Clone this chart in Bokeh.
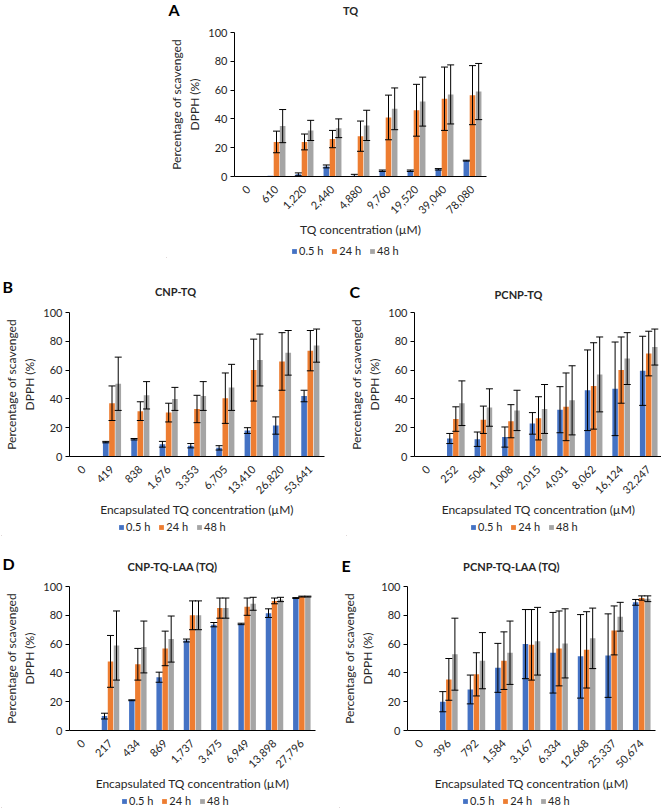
import math
from bokeh.plotting import figure
from bokeh.models import (ColumnDataSource, FactorRange, Whisker, TeeHead, Label,
                          Legend, LegendItem, FixedTicker, Range1d, Spacer)
from bokeh.transform import dodge
from bokeh.layouts import column, row
from bokeh.embed import file_html
from bokeh.resources import INLINE
from bokeh.core.validation import silence
from bokeh.core.validation.warnings import MISSING_RENDERERS

silence(MISSING_RENDERERS, True)

series = ["0.5 h", "24 h", "48 h"]
colors = ["#4472C4", "#ED7D31", "#A5A5A5"]
y_ticks = [0, 20, 40, 60, 80, 100]
y_title = "Percentage of scavenged\nDPPH (%)"

# Panel A - TQ
a_cats = ["0", "610", "1,220", "2,440", "4,880", "9,760", "19,520", "39,040", "78,080"]
a_05 = [0, 0.5, 1.5, 7, 0.5, 4, 4, 5, 11]
a_05_err = [0, 0, 1, 1, 1, 0.5, 0.5, 0.5, 0.3]
a_24 = [0, 24, 24, 26, 28, 41, 46, 54, 56.5]
a_24_err = [0, 7.5, 5.5, 6, 10.5, 15.5, 18, 22, 20.5]
a_48 = [0, 35, 32, 33.5, 35.5, 47, 52, 57, 59]
a_48_err = [0, 11.5, 7, 6.5, 10.5, 14.5, 17, 20.5, 19.5]

# Panel B - CNP-TQ
b_cats = ["0", "419", "838", "1,676", "3,353", "6,705", "13,410", "26,820", "53,641"]
b_05 = [0, 10, 12, 8.5, 7.5, 6, 18, 21.5, 42]
b_05_err = [0, 0.5, 0.5, 2, 1.5, 1.5, 2, 6, 4]
b_24 = [0, 37, 31.5, 30.5, 33, 40.5, 60, 66, 73.5]
b_24_err = [0, 12, 6.5, 6.5, 9.5, 17.5, 21.5, 20, 14]
b_48 = [0, 50.5, 42.5, 40, 42, 48, 67, 72, 77]
b_48_err = [0, 18.5, 9.5, 8, 10, 16, 18, 15.5, 11.5]

# Panel C - PCNP-TQ
c_cats = ["0", "252", "504", "1,008", "2,015", "4,031", "8,062", "16,124", "32,247"]
c_05 = [0, 12.5, 12, 13.5, 23, 32.5, 46, 47, 59.5]
c_05_err = [0, 3.5, 5, 7, 7.5, 16, 28, 32.5, 24]
c_24 = [0, 26, 25.5, 24.5, 26.5, 34.5, 49, 60, 71.5]
c_24_err = [0, 8.5, 9.5, 11.5, 15, 23.5, 30, 23, 15.5]
c_48 = [0, 37, 34, 32, 33, 39, 57, 68, 76]
c_48_err = [0, 15.5, 13, 14, 17, 24, 26, 18, 12.5]

# Panel D - CNP-TQ-LAA (TQ)
d_cats = ["0", "217", "434", "869", "1,737", "3,475", "6,949", "13,898", "27,796"]
d_05 = [0, 10, 21, 37, 62.5, 73.5, 74, 81.5, 92]
d_05_err = [0, 2, 0.3, 3.5, 1, 1.5, 0.5, 3, 0.3]
d_24 = [0, 48, 46, 57, 80, 85, 86, 90, 93]
d_24_err = [0, 18, 11, 12, 10, 7, 6, 2, 0.3]
d_48 = [0, 59, 58, 63.5, 80, 85, 88, 91, 93]
d_48_err = [0, 24, 18, 16, 10, 7, 4.5, 1.5, 0.3]

# Panel E - PCNP-TQ-LAA (TQ)
e_cats = ["0", "396", "792", "1,584", "3,167", "6,334", "12,668", "25,337", "50,674"]
e_05 = [0, 20, 28.5, 43.5, 60, 54, 51.5, 52, 89]
e_05_err = [0, 7, 10, 17, 24, 28, 29, 29, 2]
e_24 = [0, 35.5, 39, 48.5, 59.5, 57, 56, 69.5, 92]
e_24_err = [0, 14.5, 15, 20, 24.5, 26, 26.5, 17, 1.5]
e_48 = [0, 53, 48.5, 54, 62, 60.5, 64, 79, 91.5]
e_48_err = [0, 25, 19.5, 22, 23.5, 24, 21, 10, 2]

FONT = "Lato"
TXT = "#262626"
FH = 144


def blank(w, h):
    p = figure(width=w, height=h, x_range=Range1d(0, w), y_range=Range1d(0, h),
               min_border=0, x_axis_location=None, y_axis_location=None,
               output_backend="svg", toolbar_location=None, tools="", title=None)
    p.outline_line_color = None
    p.xgrid.grid_line_color = None
    p.ygrid.grid_line_color = None
    p.background_fill_color = None
    p.border_fill_color = None
    return p


def header(w, h, letter, title, lx, ly, tx, ty):
    p = blank(w, h)
    p.add_layout(Label(x=lx, y=ly, x_units="screen", y_units="screen",
                       text=letter, text_font=FONT, text_font_size="16px",
                       text_font_style="bold", text_color="black",
                       text_align="left", text_baseline="middle"))
    p.add_layout(Label(x=tx, y=ty, x_units="screen", y_units="screen",
                       text=title, text_font=FONT, text_font_size="11px",
                       text_font_style="bold", text_color=TXT,
                       text_align="center", text_baseline="middle"))
    return p


def footer(w, h, lx, ly):
    p = blank(w, h)
    rends = []
    for i in range(3):
        # legend swatch only: the bar lies outside the visible range
        r = p.vbar(x=[-1000], top=[1], width=1, fill_color=colors[i], line_color=None)
        rends.append(r)
    legend = Legend(items=[LegendItem(label=series[i], renderers=[rends[i]]) for i in range(3)],
                    location=(lx, ly), orientation="horizontal",
                    glyph_width=6, glyph_height=6, label_standoff=2, spacing=8,
                    padding=0, margin=0, label_height=12, label_width=10,
                    border_line_color=None, background_fill_alpha=0,
                    label_text_font=FONT, label_text_font_size="11px",
                    label_text_color=TXT)
    p.add_layout(legend)
    return p


def panel(xtitle, cats, vals, errs, fw, left, right, top, bottom):
    p = figure(x_range=FactorRange(factors=cats), y_range=Range1d(0, 100),
               frame_width=fw, frame_height=FH, title=None,
               min_border_left=left, min_border_right=right,
               min_border_top=top, min_border_bottom=bottom,
               output_backend="svg", toolbar_location=None, tools="")
    p.outline_line_color = None
    p.xgrid.grid_line_color = None
    p.ygrid.grid_line_color = None
    p.background_fill_color = None
    p.border_fill_color = None

    data = {"cat": cats}
    offs = [-0.22, 0.0, 0.22]
    for i in range(3):
        data["v%d" % i] = vals[i]
    src = ColumnDataSource(data)
    for i in range(3):
        p.vbar(x=dodge("cat", offs[i], range=p.x_range), top="v%d" % i, width=0.2,
               source=src, fill_color=colors[i], line_color=None)
    for i in range(3):
        wd = {"cat": [], "lo": [], "hi": []}
        for c, v, e in zip(cats, vals[i], errs[i]):
            if e <= 0:
                continue
            wd["cat"].append(c)
            wd["lo"].append(max(0, v - e))
            wd["hi"].append(v + e)
        ws = ColumnDataSource(wd)
        w = Whisker(source=ws, base=dodge("cat", offs[i], range=p.x_range),
                    upper="hi", lower="lo", line_color="black", line_width=1,
                    upper_head=TeeHead(size=7, line_color="black", line_width=1),
                    lower_head=TeeHead(size=7, line_color="black", line_width=1),
                    level="overlay")
        p.add_layout(w)

    xa = p.xaxis[0]
    xa.major_label_orientation = math.pi / 4
    xa.major_tick_line_color = None
    xa.minor_tick_line_color = None
    xa.axis_line_color = "black"
    xa.major_label_text_font = FONT
    xa.major_label_text_font_size = "11px"
    xa.major_label_text_color = TXT
    xa.major_label_standoff = 5
    xa.axis_label = xtitle
    xa.axis_label_text_font = FONT
    xa.axis_label_text_font_size = "12px"
    xa.axis_label_text_font_style = "normal"
    xa.axis_label_text_color = TXT
    xa.axis_label_standoff = 2

    ya = p.yaxis[0]
    ya.ticker = FixedTicker(ticks=y_ticks)
    ya.major_tick_out = 4
    ya.major_tick_in = 0
    ya.minor_tick_line_color = None
    ya.axis_line_color = "black"
    ya.major_tick_line_color = "black"
    ya.major_label_text_font = FONT
    ya.major_label_text_font_size = "11px"
    ya.major_label_text_color = TXT
    ya.major_label_standoff = 3
    ya.axis_label = y_title
    ya.axis_label_text_font = FONT
    ya.axis_label_text_font_size = "12px"
    ya.axis_label_text_font_style = "normal"
    ya.axis_label_text_color = TXT
    ya.axis_label_standoff = 3
    return p


# Panel A
ha = header(336, 25, "A", "TQ", lx=2, ly=16, tx=184, ty=15)
pa = panel("TQ concentration (µM)", a_cats, [a_05, a_24, a_48], [a_05_err, a_24_err, a_48_err],
           fw=252, left=64, right=20, top=7, bottom=62)
fa = footer(336, 18, lx=125, ly=1)

# Panel B
hb = header(336, 47, "B", "CNP-TQ", lx=1, ly=19, tx=174, ty=14)
pb = panel("Encapsulated TQ concentration (µM)", b_cats, [b_05, b_24, b_48],
           [b_05_err, b_24_err, b_48_err], fw=255, left=59, right=22, top=7, bottom=62)
fb = footer(336, 16, lx=117, ly=3)

# Panel C
hc = header(309, 47, "C", "PCNP-TQ", lx=3, ly=14, tx=172, ty=11)
pc = panel("Encapsulated TQ concentration (µM)", c_cats, [c_05, c_24, c_48],
           [c_05_err, c_24_err, c_48_err], fw=248, left=57, right=4, top=7, bottom=62)
fc = footer(309, 16, lx=124, ly=3)

# Panel D
hd = header(336, 43, "D", "CNP-TQ-LAA (TQ)", lx=1, ly=16, tx=171, ty=13)
pd_ = panel("Encapsulated TQ concentration (µM)", d_cats, [d_05, d_24, d_48],
            [d_05_err, d_24_err, d_48_err], fw=246, left=66, right=24, top=7, bottom=62)
fd = footer(336, 14, lx=120, ly=1)

# Panel E
he = header(309, 43, "E", "PCNP-TQ-LAA (TQ)", lx=2, ly=14, tx=172, ty=13)
pe = panel("Encapsulated TQ concentration (µM)", e_cats, [e_05, e_24, e_48],
           [e_05_err, e_24_err, e_48_err], fw=248, left=57, right=4, top=7, bottom=62)
fe = footer(309, 14, lx=123, ly=1)


def stack(h, p, f):
    return column(row(h), row(p), row(f))


layout = column(row(Spacer(width=166, height=10), stack(ha, pa, fa)),
                row(Spacer(width=1, height=10), stack(hb, pb, fb), stack(hc, pc, fc)),
                row(Spacer(width=1, height=10), stack(hd, pd_, fd), stack(he, pe, fe)))

open("out.html", "w").write(file_html(layout, INLINE))
